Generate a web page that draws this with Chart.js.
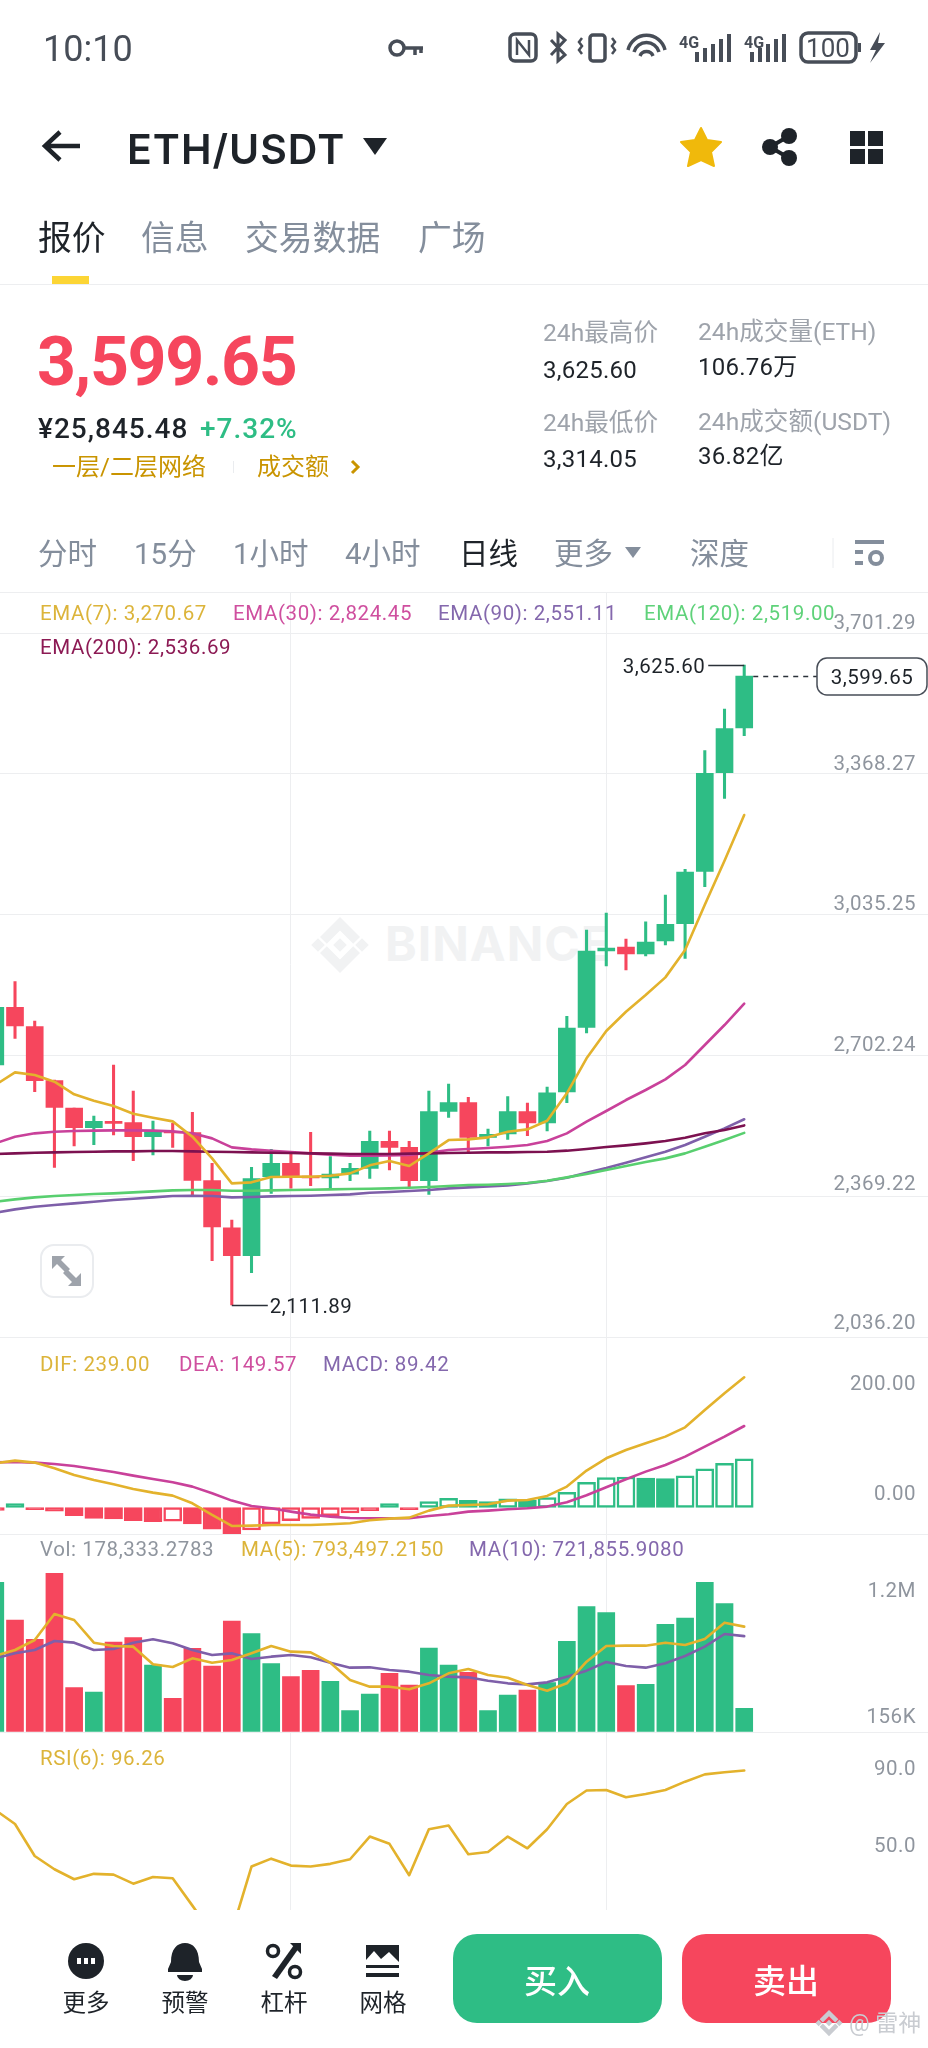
<!DOCTYPE html>
<html lang="zh-CN">
<head>
<meta charset="utf-8">
<title>ETH/USDT</title>
<script src="https://cdn.jsdelivr.net/npm/chart.js@4/dist/chart.umd.min.js"></script>
<style>
  html, body { margin: 0; padding: 0; width: 928px; height: 2048px; overflow: hidden; background: #fff; }
  body { position: relative; font-family: Roboto, "Noto Sans CJK SC", sans-serif; color: #1e2329; }
  canvas { position: absolute; left: -15px; z-index: 2; }
  svg.icons { position: absolute; left: 0; top: 0; z-index: 3; }
  .t { position: absolute; white-space: nowrap; line-height: 1; transform: translateY(-50%); z-index: 4; }
  .c { transform: translate(-50%, -50%); }
  .rule { position: absolute; left: 0; width: 928px; height: 1px; background: #edeef0; z-index: 1; }
  .btn { position: absolute; top: 1934px; width: 209px; height: 89px; border-radius: 24px; z-index: 3; }
  .lg { font-size: 20.5px; letter-spacing: .6px; z-index: 4; }
  .stat { font-size: 24.6px; color: #9ea3ab; }
  .val { font-size: 24px; letter-spacing: .25px; }
  .tf { font-size: 29.5px; color: #848e9c; }
  .tab { font-size: 33.8px; color: #848e9c; }
  .tool { font-size: 23.5px; }
  .wm { position: absolute; z-index: 1; left: 385px; top: 944px; transform: translateY(-50%); font: 700 48px Inter, Roboto, sans-serif; color: #f1f2f3; letter-spacing: 1px; line-height: 1; }
</style>
</head>
<body>

<!-- status bar -->
<div class="t" style="left:43px;top:49px;font-size:36px;color:#474d57">10:10</div>

<!-- title row -->
<div class="t" style="left:127px;top:149px;font:600 41px Inter,Roboto,sans-serif;letter-spacing:1px;color:#1e2329">ETH/USDT</div>

<!-- tabs -->
<div class="t tab" style="left:38px;top:239px;color:#1e2329">报价</div>
<div class="t tab" style="left:141px;top:239px">信息</div>
<div class="t tab" style="left:245px;top:239px">交易数据</div>
<div class="t tab" style="left:418px;top:239px">广场</div>
<div style="position:absolute;left:52px;top:276px;width:37px;height:8px;background:#fcd535"></div>
<div class="rule" style="top:284px"></div>

<!-- price block -->
<div class="t" style="left:37px;top:362px;font-size:68px;font-weight:700;color:#f6465d;letter-spacing:-1.4px">3,599.65</div>
<div class="t" style="left:38px;top:429px;font-size:28px;font-weight:500;letter-spacing:1px">¥25,845.48</div>
<div class="t" style="left:200px;top:429px;font-size:28px;font-weight:500;letter-spacing:1px;color:#2ebd85">+7.32%</div>
<div class="t" style="left:52px;top:467px;font-size:24px;color:#c99400">一层/二层网络</div>
<div style="position:absolute;left:233px;top:461px;width:1px;height:12px;background:#eaecef"></div>
<div class="t" style="left:257px;top:467px;font-size:24px;color:#c99400">成交额</div>

<div class="t stat" style="left:543px;top:333px">24h最高价</div>
<div class="t val" style="left:543px;top:370px">3,625.60</div>
<div class="t stat" style="left:543px;top:423px">24h最低价</div>
<div class="t val" style="left:543px;top:459px">3,314.05</div>
<div class="t stat" style="left:698px;top:332px">24h成交量(ETH)</div>
<div class="t val" style="left:698px;top:367px">106.76万</div>
<div class="t stat" style="left:698px;top:422px">24h成交额(USDT)</div>
<div class="t val" style="left:698px;top:456px">36.82亿</div>

<!-- timeframes -->
<div class="t tf" style="left:38px;top:555px">分时</div>
<div class="t tf" style="left:134px;top:555px">15分</div>
<div class="t tf" style="left:233px;top:555px">1小时</div>
<div class="t tf" style="left:345px;top:555px">4小时</div>
<div class="t tf" style="left:459px;top:555px;color:#1e2329">日线</div>
<div class="t tf" style="left:554px;top:555px">更多</div>
<div class="t tf" style="left:690px;top:555px">深度</div>

<!-- pane legends -->
<div class="rule" style="top:592px"></div>
<div class="t lg" style="left:40px;top:613px;color:#dcb43a">EMA(7): 3,270.67</div>
<div class="t lg" style="left:233px;top:613px;color:#cf4f9f">EMA(30): 2,824.45</div>
<div class="t lg" style="left:438px;top:613px;color:#8468ad">EMA(90): 2,551.11</div>
<div class="t lg" style="left:644px;top:613px;color:#5fd27a">EMA(120): 2,519.00</div>
<div class="t lg" style="left:40px;top:647px;color:#8c1a54">EMA(200): 2,536.69</div>
<div class="wm">BINANCE</div>

<div class="t lg" style="left:40px;top:1364px;color:#dcb43a">DIF: 239.00</div>
<div class="t lg" style="left:179px;top:1364px;color:#cf4f9f">DEA: 149.57</div>
<div class="t lg" style="left:323px;top:1364px;color:#8468ad">MACD: 89.42</div>

<div class="rule" style="top:1534px"></div>
<div class="t lg" style="left:40px;top:1549px;color:#8f959e">Vol: 178,333.2783</div>
<div class="t lg" style="left:241px;top:1549px;color:#dcb43a">MA(5): 793,497.2150</div>
<div class="t lg" style="left:469px;top:1549px;color:#8468ad">MA(10): 721,855.9080</div>

<div class="t lg" style="left:40px;top:1758px;color:#dcb43a">RSI(6): 96.26</div>

<canvas id="main" width="947" height="746" style="top:592px"></canvas>
<canvas id="macd" width="947" height="198" style="top:1337px"></canvas>
<canvas id="vol" width="947" height="199" style="top:1534px"></canvas>
<canvas id="rsi" width="947" height="178" style="top:1732px"></canvas>

<!-- bottom bar -->
<div class="t tool c" style="left:86px;top:2004px">更多</div>
<div class="t tool c" style="left:185px;top:2004px">预警</div>
<div class="t tool c" style="left:284px;top:2004px">杠杆</div>
<div class="t tool c" style="left:383px;top:2004px">网格</div>
<div class="btn" style="left:453px;background:#2ebd85"></div>
<div class="btn" style="left:682px;background:#f6465d"></div>
<div class="t c" style="left:557px;top:1981px;font-size:33px;font-weight:500;color:#fff">买入</div>
<div class="t c" style="left:786px;top:1981px;font-size:33px;font-weight:500;color:#fff">卖出</div>
<div class="t" style="left:849px;top:2023px;font-size:23px;color:#c9ccd1;z-index:5">@ 雷神</div>

<svg class="icons" width="928" height="2048" viewBox="0 0 928 2048">
  <defs>
    <symbol id="bnb" viewBox="0 0 32 32">
      <path d="M16 2l10 10-3.4 3.4L16 8.8l-6.6 6.6L6 12zM16 30l10-10-3.4-3.4-6.6 6.6-6.6-6.6L6 20zM5 12.6L8.4 16 5 19.4 1.6 16zM27 12.6l3.400 3.400L27 19.4 23.6 16zM16 12.6l3.400 3.400L16 19.4 12.6 16z"/>
    </symbol>
  </defs>

  <!-- status icons -->
  <g fill="none" stroke="#474d57" stroke-width="3.500">
    <circle cx="397" cy="48" r="7"/><path d="M404 48h19M415 48v7M421 48v5"/>
    <rect x="510" y="34" width="26" height="27" rx="5"/><path d="M517 55V40l12 15V40" stroke-width="2.500"/>
    <path d="M551 40l14 15-7 6V34l7 6-14 15" stroke-width="3"/>
    <rect x="590" y="35" width="15" height="26" rx="3"/>
    <path d="M582 38l-3 4 3 4-3 4 3 4M612 38l3 4-3 4 3 4-3 4" stroke-width="2.500"/>
    <path d="M628 50a19 19 0 0 1 37 0M634 52a13 13 0 0 1 25 0M640 56a7 7 0 0 1 13 0"/>
    <rect x="801" y="33" width="55" height="29" rx="7"/>
  </g>
  <g fill="#474d57">
    <text x="679" y="48" font-family="Roboto" font-size="16" font-weight="700">4G</text>
    <text x="744" y="48" font-family="Roboto" font-size="16" font-weight="700">4G</text>
    <text x="828" y="57" text-anchor="middle" font-family="Roboto" font-size="26">100</text>
    <rect x="695" y="52" width="4" height="10"/><rect x="703" y="48" width="4" height="14"/><rect x="711" y="44" width="4" height="18"/><rect x="719" y="39" width="4" height="23"/><rect x="727" y="34" width="4" height="28"/>
    <rect x="750" y="52" width="4" height="10"/><rect x="758" y="48" width="4" height="14"/><rect x="766" y="44" width="4" height="18"/><rect x="774" y="39" width="4" height="23"/><rect x="782" y="34" width="4" height="28"/>
    <rect x="858" y="43" width="3" height="9"/>
    <path d="M880 32l-10 18h6l-6 13 15-20h-7z"/>
  </g>

  <!-- header icons -->
  <path d="M80 146H47M60 132l-15 14 15 14" fill="none" stroke="#1e2329" stroke-width="4.500"/>
  <path d="M363 138h24l-12 17z" fill="#1e2329"/>
  <path d="M701 128l6 12 14 2-10 10 3 14-13-6-13 6 3-14-10-10 14-2z" fill="#f0b90b" stroke="#f0b90b" stroke-linejoin="round" stroke-width="2"/>
  <g fill="#1e2329">
    <circle cx="789" cy="136" r="8"/><circle cx="770" cy="147" r="8"/><circle cx="789" cy="158" r="8"/>
    <path d="M770 147l19-11M770 147l19 11" stroke="#1e2329" stroke-width="4"/>
    <rect x="850" y="131" width="15" height="15"/><rect x="868" y="131" width="15" height="15"/><rect x="850" y="149" width="15" height="15"/><rect x="868" y="149" width="15" height="15"/>
  </g>
  <path d="M352 461l6 6-6 6" fill="none" stroke="#c99400" stroke-width="3"/>

  <!-- timeframe row icons -->
  <path d="M625 547h16l-8 11z" fill="#848e9c"/>
  <path d="M833 538v30" stroke="#eaecef" stroke-width="1"/>
  <g fill="#848e9c">
    <rect x="855" y="540" width="29" height="4"/><rect x="855" y="550" width="8" height="4"/><rect x="855" y="561" width="8" height="4"/>
    <circle cx="876" cy="558" r="6" fill="none" stroke="#848e9c" stroke-width="4"/>
  </g>

  <!-- watermark logo -->
  <use href="#bnb" x="308" y="913" width="64" height="64" fill="#f1f2f3" style="mix-blend-mode:multiply"/>

  <!-- expand button -->
  <rect x="41" y="1245" width="52" height="52" rx="13" fill="#fff" stroke="#eaecef" stroke-width="2"/>
  <g fill="#9ea3ab">
    <path d="M52 1256h13l-4 4 9 9-4 4-9-9-5 5z"/>
    <path d="M81 1286H68l4-4-9-9 4-4 9 9 5-5z"/>
  </g>

  <!-- bottom tools -->
  <g fill="#1e2329">
    <circle cx="86" cy="1961" r="18"/>
    <path d="M171 1962c0-13 6-19 14-19s14 6 14 19l3 7v3h-34v-3zM177 1975h16a8 6 0 0 1-16 0z"/>
    <path d="M272 1976l22-31 5 3-22 31z"/><path d="M290 1943h11v11z"/>
    <circle cx="273" cy="1951" r="5.500" fill="none" stroke="#1e2329" stroke-width="3.500"/>
    <circle cx="295" cy="1972" r="5.500" fill="none" stroke="#1e2329" stroke-width="3.500"/>
    <path d="M366 1945h33v23h-33z"/><rect x="366" y="1973" width="33" height="4"/>
    <path d="M366 1960l8-9 7 8 8-7 10 10v3h-33z" fill="#fff"/>
  </g>
  <g fill="#fff"><rect x="77" y="1958" width="4" height="6"/><rect x="84" y="1958" width="4" height="6"/><rect x="91" y="1958" width="4" height="6"/></g>

  <use href="#bnb" x="814" y="2008" width="30" height="30" fill="#c9ccd1"/>
</svg>

<script>
// ── Data ─────────────────────────────────────────────────────
const candleOpen = [2679.5, 2815.9, 2770.2, 2642.4, 2577.8, 2531.3, 2546.2, 2543.1, 2510, 2521.8, 2519.4, 2405.9, 2294.7, 2228.5, 2415.4, 2446.9, 2416.9, 2412.2, 2421.6, 2435, 2498.9, 2484.8, 2405.9, 2569.9, 2590.4, 2508.4, 2516.3, 2569.1, 2542.3, 2615.6, 2768.6, 2949.1, 2958.6, 2942, 2972.8, 3013.8, 3137.5, 3370.9, 3476.6];
const candleClose = [2815.9, 2771.7, 2642.4, 2579.4, 2531.3, 2546.2, 2541.5, 2510, 2521.8, 2518.6, 2406.7, 2296.3, 2228.5, 2410.6, 2446.9, 2415.4, 2412.2, 2421.6, 2435, 2498.9, 2484.8, 2405.9, 2569.1, 2590.4, 2508.4, 2515.5, 2569.1, 2542.3, 2614, 2767, 2949.1, 2956.2, 2942, 2970.4, 3012.2, 3136, 3369.4, 3475, 3599.65];
const candleHigh = [2830, 2876.6, 2783.6, 2644, 2577.8, 2558.8, 2679.5, 2618, 2547, 2541.5, 2567.5, 2446.9, 2312.8, 2437.4, 2480, 2472.1, 2520.2, 2462.7, 2446.9, 2523.4, 2523.4, 2498.9, 2618, 2634.5, 2603, 2528.1, 2604.6, 2589.6, 2627.4, 2794.6, 2998.8, 3039, 2977.5, 3018.4, 3081.6, 3142.3, 3423, 3521.5, 3625.6];
const candleLow = [2670, 2742.6, 2616.4, 2437.4, 2487.9, 2491, 2513.9, 2453.2, 2466.6, 2484.8, 2369.6, 2216.7, 2111.89, 2188.3, 2376, 2388.5, 2394.1, 2385.4, 2405.9, 2411.4, 2431.1, 2391.7, 2373.6, 2555.7, 2474.5, 2487.9, 2503.7, 2512.3, 2523.4, 2590.4, 2755.2, 2913.6, 2904.2, 2937.3, 2963.3, 2931.8, 3101.3, 3310.2, 3458.4];

const ema7 = [2632.2, 2662.1, 2655.8, 2640.1, 2610.1, 2595.1, 2582.5, 2564.4, 2554.9, 2546.2, 2510, 2458.7, 2399.6, 2402, 2414.6, 2415.4, 2415.4, 2417.7, 2423.2, 2442.2, 2452.4, 2440.6, 2470.5, 2502, 2503.7, 2508.4, 2521.8, 2527.3, 2547.8, 2612.5, 2695.3, 2759.9, 2805.6, 2845.1, 2886.8, 2951.5, 3058.7, 3162.8, 3270.67];
const ema30 = [2494.2, 2510, 2517.9, 2521.8, 2523.4, 2524.2, 2525, 2525, 2524.2, 2522.6, 2517.9, 2506, 2484.8, 2480, 2476.9, 2473.7, 2470.5, 2467.4, 2465, 2465, 2465.8, 2466.6, 2472.1, 2478.4, 2480.8, 2483.2, 2486.3, 2490.3, 2499.7, 2517.9, 2545.4, 2570.7, 2596.7, 2620.4, 2645.6, 2679.5, 2726.8, 2774.1, 2824.45];
const ema90 = [2330.2, 2338.1, 2344.4, 2348.3, 2352.3, 2356.2, 2360.2, 2363.3, 2366.5, 2369.6, 2370.4, 2369.6, 2366.5, 2367.3, 2368.8, 2369.6, 2370.4, 2372, 2373.6, 2377.5, 2379.1, 2381.4, 2383.8, 2387.8, 2390.1, 2392.5, 2394.9, 2399.6, 2405.1, 2413, 2424.8, 2435.8, 2448.5, 2461.1, 2474.5, 2490.3, 2510, 2529.7, 2551.11];
const ema120 = [2356.2, 2361.7, 2366.5, 2369.6, 2372, 2374.4, 2375.9, 2378.3, 2380.7, 2383, 2383.8, 2383.8, 2382.2, 2382.2, 2383, 2383.8, 2384.6, 2385.4, 2386.2, 2387, 2387.8, 2389.3, 2390.9, 2393.3, 2395.6, 2396.4, 2398, 2400.4, 2405.9, 2413.8, 2421.7, 2431.1, 2440.6, 2450, 2458.7, 2470.5, 2486.3, 2502.1, 2519];
const ema200 = [2469, 2470.5, 2472.1, 2472.9, 2473.7, 2474.5, 2475.3, 2475.3, 2476.1, 2476.1, 2475.3, 2474.5, 2473.7, 2472.9, 2472.1, 2471.3, 2470.5, 2469.8, 2469, 2469, 2469, 2469.8, 2470.5, 2471.3, 2472.1, 2472.9, 2472.9, 2473.7, 2474.5, 2476.9, 2480.8, 2485.5, 2489.5, 2494.2, 2499.7, 2507.6, 2517.9, 2525.7, 2536.69];

const macdHist = [-5.5, 7, -4, -7, -15, -20, -21, -24, -26, -25, -30, -40, -48, -41, -30, -24, -20, -15, -10, -6, 7, -4, 11, 17, 13, 11, 16, 13, 18, 28, 46, 55, 56, 54, 53, 58, 71, 81, 89.42];
const macdDif = [81.1, 86, 82.4, 72, 59.7, 50.5, 42.6, 34, 27.3, 21.8, 7.7, -13.7, -33.9, -33.3, -32.1, -32.1, -32.1, -30.9, -29, -23.5, -20.5, -18.6, -5.8, 3.4, 4.6, 5.9, 12.6, 13.8, 21.2, 38.3, 67.7, 90.3, 105.6, 117.9, 130.1, 147.2, 179, 209.7, 239];
const macdDea = [83, 83.6, 82.4, 79.9, 76.2, 70.7, 65.2, 58.5, 52.4, 46.3, 38.3, 26, 12.6, 2.8, -1.5, -7.6, -13.1, -16.8, -19.2, -19.9, -19.9, -19.9, -15.6, -12.5, -7.6, -5.8, -3.3, -1.5, 1.6, 9.5, 22.4, 37.1, 51.8, 65.8, 78.1, 93.4, 111.7, 130.1, 149.57];

const volume = [1126990, 843360, 697780, 1194760, 333830, 301200, 677700, 710330, 504510, 253510, 630010, 496980, 835830, 740450, 514550, 416660, 464350, 381520, 160640, 286140, 441760, 353910, 632520, 504510, 449290, 160640, 278610, 316260, 371480, 682720, 943760, 898580, 348890, 358930, 810730, 858420, 1126990, 966350, 178333];
const volMa5 = [574790, 617460, 692760, 888540, 843360, 672680, 647580, 642560, 509530, 489450, 554710, 522080, 542160, 592360, 647580, 604910, 599890, 522080, 391560, 341360, 341360, 321280, 366460, 441760, 474390, 429210, 409130, 353910, 311240, 366460, 529610, 647580, 650090, 650090, 672680, 655110, 700290, 823280, 793497];
const volMa10 = [554710, 592360, 617460, 685230, 672680, 617460, 624990, 672680, 697780, 667660, 617460, 579810, 592360, 549690, 567260, 579810, 562240, 522080, 484430, 486940, 466860, 454310, 429210, 416660, 411640, 386540, 366460, 358930, 373990, 416660, 461840, 527100, 496980, 484430, 517060, 572280, 642560, 737940, 721856];

const rsi6 = [75.8, 68.5, 51.9, 45, 39.8, 42.6, 42.2, 37.5, 41, 40.3, 26.1, 11.7, 12.6, 46.4, 50.5, 46.9, 46.4, 47.8, 50.2, 62, 58.2, 41.9, 65.8, 67.7, 52.8, 54, 62, 55.9, 65.8, 78.9, 85.9, 86.2, 82.4, 84.1, 86.2, 90.5, 94.3, 95.4, 96.26];

const priceTicks = [3701.29, 3368.27, 3035.25, 2702.24, 2369.22, 2036.20];
const macdTicks = [200, 0];
const volTickValues = [1200000, 156000];
const volTickLabels = ['1.2M', '156K'];
const rsiTicks = [90, 50];
const slots = Array.from({ length: 48 }, (_, i) => i);
const verticalGridSlots = [15, 31];

// ── Styling ──────────────────────────────────────────────────
const UP = '#2ebd85';
const DOWN = '#f6465d';
const GRID = '#edeef0';
const LINES = { yellow: '#e3b22c', pink: '#c9419a', purple: '#7e5fa9', green: '#58cf6f', maroon: '#7c1150' };
const money = v => v.toLocaleString('en-US', { minimumFractionDigits: 2, maximumFractionDigits: 2 });
const isUp = i => candleClose[i] >= candleOpen[i];

const lineSet = (data, color, order) => ({
  type: 'line', data, borderColor: color, borderWidth: 2.6, pointRadius: 0,
  tension: 0, fill: false, order, borderJoinStyle: 'round', borderCapStyle: 'round',
});
const barSet = (data, thickness, order, extra) => Object.assign({
  type: 'bar', data, barThickness: thickness, grouped: false, order, borderWidth: 0, borderSkipped: false,
  backgroundColor: ctx => (isUp(ctx.dataIndex) ? UP : DOWN),
}, extra);

// y labels sit a little off their tick, the shift differs per pane
const axisLabels = {
  id: 'axisLabels',
  afterDatasetsDraw(chart, args, opts) {
    if (!opts.values) return;
    const { ctx } = chart;
    ctx.save();
    ctx.font = '20.5px Roboto';
    ctx.letterSpacing = '0.5px';
    ctx.fillStyle = '#8f959e';
    ctx.textAlign = 'right';
    ctx.textBaseline = 'middle';
    opts.values.forEach((v, i) => {
      ctx.fillText(opts.labels[i], 931, chart.scales.y.getPixelForValue(v) + opts.shift[i] + 2);
    });
    ctx.restore();
  },
};

// high / low callouts and the last price box
const priceMarks = {
  id: 'priceMarks',
  afterDatasetsDraw(chart) {
    const { ctx, scales: { x, y } } = chart;
    const last = candleClose.length - 1;
    const highIdx = candleHigh.indexOf(Math.max(...candleHigh));
    const lowIdx = candleLow.indexOf(Math.min(...candleLow));
    const hy = Math.round(y.getPixelForValue(candleHigh[highIdx])) + 0.5;
    const ly = Math.round(y.getPixelForValue(candleLow[lowIdx])) + 0.5;
    const cy = Math.round(y.getPixelForValue(candleClose[last])) + 0.5;
    const hx = x.getPixelForValue(highIdx);
    const lx = x.getPixelForValue(lowIdx);
    const lastX = x.getPixelForValue(last);
    ctx.save();
    ctx.font = '20.5px Roboto';
    ctx.letterSpacing = '0.5px';
    ctx.strokeStyle = '#2b3139';
    ctx.fillStyle = '#1e2329';
    ctx.lineWidth = 1.4;
    ctx.textBaseline = 'middle';

    ctx.beginPath(); ctx.moveTo(hx - 36, hy); ctx.lineTo(hx, hy); ctx.stroke();
    ctx.textAlign = 'right';
    ctx.fillText(money(candleHigh[highIdx]), hx - 39, hy + 2);

    ctx.beginPath(); ctx.moveTo(lx, ly); ctx.lineTo(lx + 36, ly); ctx.stroke();
    ctx.textAlign = 'left';
    ctx.fillText(money(candleLow[lowIdx]), lx + 38, ly + 2);

    const boxL = 832, boxW = 110, boxH = 37;
    ctx.setLineDash([5, 5]);
    ctx.beginPath(); ctx.moveTo(lastX + 9, cy); ctx.lineTo(boxL, cy); ctx.stroke();
    ctx.setLineDash([]);
    ctx.beginPath();
    ctx.roundRect(boxL, cy - boxH / 2, boxW, boxH, 10);
    ctx.fillStyle = '#fff';
    ctx.fill();
    ctx.lineWidth = 1.5;
    ctx.strokeStyle = '#474d57';
    ctx.stroke();
    ctx.fillStyle = '#1e2329';
    ctx.textAlign = 'center';
    ctx.fillText(money(candleClose[last]), boxL + boxW / 2, cy + 2);
    ctx.restore();
  },
};

function pane(id, datasets, yMin, yMax, gridValues, labelOpts, extraPlugins) {
  const padBottom = id === 'rsi' ? 0 : 1;
  return new Chart(document.getElementById(id), {
    data: { labels: slots, datasets },
    plugins: [axisLabels].concat(extraPlugins || []),
    options: {
      responsive: false,
      animation: false,
      layout: { autoPadding: false, padding: { left: 0.45, right: 0.55, top: 0, bottom: padBottom } },
      plugins: { legend: { display: false }, tooltip: { enabled: false }, axisLabels: labelOpts },
      scales: {
        x: {
          type: 'category',
          offset: true,
          ticks: { display: false, autoSkip: false },
          border: { display: false },
          grid: {
            offset: false,
            drawTicks: false,
            color: ctx => (verticalGridSlots.includes(ctx.index) ? GRID : 'transparent'),
          },
          afterFit: s => { s.height = 0; },
        },
        y: {
          position: 'right',
          min: yMin,
          max: yMax,
          ticks: { display: false },
          border: { display: false },
          grid: { display: gridValues.length > 0, color: GRID, drawTicks: false },
          afterBuildTicks: s => { s.ticks = gridValues.map(value => ({ value })); },
          afterFit: s => { s.width = 0; },
        },
      },
    },
  });
}

// ── Price pane ───────────────────────────────────────────────
const wicks = candleHigh.map((h, i) => [candleLow[i], h]);
const bodies = candleOpen.map((o, i) => [Math.min(o, candleClose[i]), Math.max(o, candleClose[i])]);
pane('main', [
  lineSet(ema7, LINES.yellow, 1),
  lineSet(ema200, LINES.maroon, 2),
  lineSet(ema120, LINES.green, 3),
  lineSet(ema90, LINES.purple, 4),
  lineSet(ema30, LINES.pink, 5),
  barSet(bodies, 17, 6),
  barSet(wicks, 2.4, 7),
], 2036.20, 3798.27, priceTicks, {
  values: priceTicks,
  labels: priceTicks.map(money),
  shift: [-11, -11, -12, -12, -13, -15],
}, [priceMarks]);

// ── MACD pane ────────────────────────────────────────────────
const histColor = i => (macdHist[i] >= 0 ? UP : DOWN);
const histHollow = i => i > 0 && macdHist[i] > macdHist[i - 1] && Math.abs(macdHist[i]) >= 8;
pane('macd', [
  lineSet(macdDif, LINES.yellow, 1),
  lineSet(macdDea, LINES.pink, 2),
  barSet(macdHist, 18, 3, {
    backgroundColor: ctx => (histHollow(ctx.dataIndex) ? '#fff' : histColor(ctx.dataIndex)),
    borderColor: ctx => histColor(ctx.dataIndex),
    borderWidth: 2.5,
  }),
], -48.7, 313, [], {
  values: macdTicks,
  labels: macdTicks.map(money),
  shift: [-15.6, -14.5],
});

// ── Volume pane ──────────────────────────────────────────────
pane('vol', [
  lineSet(volMa5, LINES.yellow, 1),
  lineSet(volMa10, LINES.purple, 2),
  barSet(volume, 17, 3),
], 0, 1490940, [0], {
  values: volTickValues,
  labels: volTickLabels,
  shift: [17.5, 4.7],
});

// ── RSI pane ─────────────────────────────────────────────────
pane('rsi', [lineSet(rsi6, LINES.yellow, 1)], 23.83, 116.3, [], {
  values: rsiTicks,
  labels: rsiTicks.map(v => v.toFixed(1)),
  shift: [-15, -15],
});
</script>
</body>
</html>
